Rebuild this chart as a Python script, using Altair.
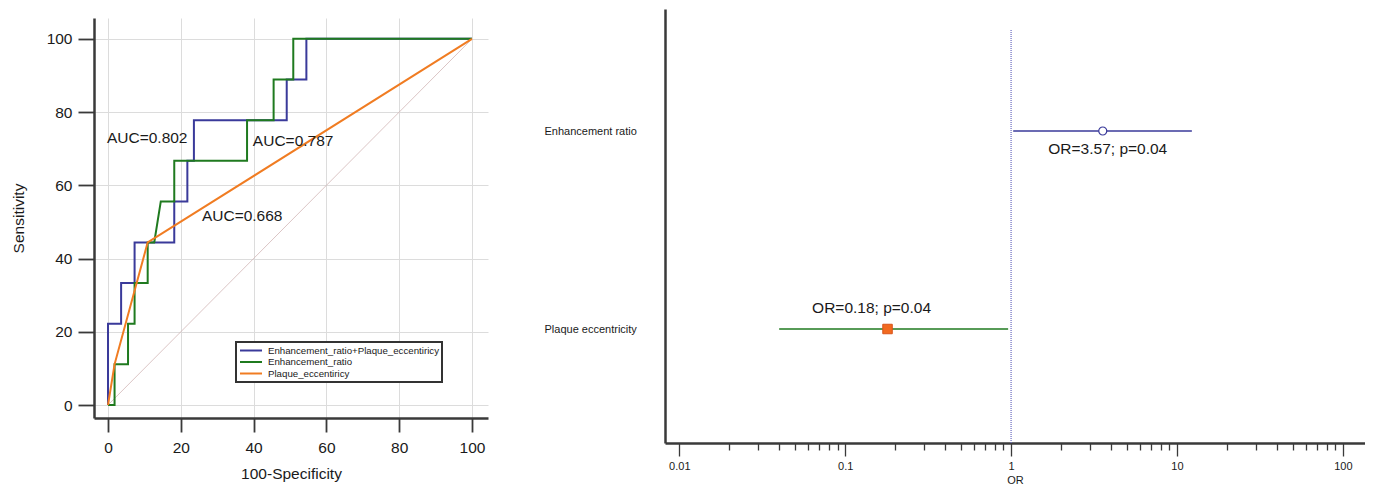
import altair as alt
import pandas as pd

FONT = "Liberation Sans"

# ---------------- ROC panel data ----------------
series_names = ["Enhancement_ratio+Plaque_eccentiricy", "Enhancement_ratio", "Plaque_eccentiricy"]
series_colors = ["#3a3a9a", "#1f7a1f", "#f07c22"]

combo_x = [0, 0, 3.6, 3.6, 7.3, 7.3, 18.2, 18.2, 21.8, 21.8, 23.6, 23.6, 49.1, 49.1, 54.5, 54.5, 100]
combo_y = [0, 22.2, 22.2, 33.3, 33.3, 44.4, 44.4, 55.6, 55.6, 66.7, 66.7, 77.8, 77.8, 88.9, 88.9, 100, 100]
enh_x = [0, 1.8, 1.8, 5.5, 5.5, 7.3, 7.3, 10.9, 10.9, 12.7, 14.5, 18.2, 18.2, 38.2, 38.2, 45.5, 45.5, 50.9, 50.9, 100]
enh_y = [0, 0, 11.1, 11.1, 22.2, 22.2, 33.3, 33.3, 44.4, 44.4, 55.6, 55.6, 66.7, 66.7, 77.8, 77.8, 88.9, 88.9, 100, 100]
plq_x = [0, 1.8, 10.9, 100]
plq_y = [0, 11.1, 44.4, 100]

diag_x = [0, 100]
diag_y = [0, 100]

auc_text = ["AUC=0.802", "AUC=0.787", "AUC=0.668"]
auc_x = [-0.3, 39.8, 25.8]
auc_y = [73.0, 72.0, 51.6]

roc_ticks = list(range(0, 101, 5))

# ---------------- Forest panel data ----------------
rows = ["Enhancement ratio", "Plaque eccentricity"]
odds = [3.57, 0.18]
ci_low = [1.03, 0.040]
ci_high = [12.3, 0.96]
pvals = [0.04, 0.04]
row_colors = ["#3a3a9a", "#1f7a1f"]
reference_or = 1

log_ticks = [m * 10.0 ** e for e in range(-2, 2) for m in range(1, 10)] + [100.0]

# ---------------- frames ----------------
roc_rows = []
for name, xs, ys in [(series_names[0], combo_x, combo_y),
                     (series_names[1], enh_x, enh_y),
                     (series_names[2], plq_x, plq_y)]:
    for i, (xv, yv) in enumerate(zip(xs, ys)):
        roc_rows.append({"series": name, "x": xv, "y": yv, "order": i})
roc_df = pd.DataFrame(roc_rows)
diag_df = pd.DataFrame({"x": diag_x, "y": diag_y})
auc_df = pd.DataFrame({"label": auc_text, "x": auc_x, "y": auc_y})

forest_df = pd.DataFrame({
    "row": rows, "or": odds, "lo": ci_low, "hi": ci_high,
    "label": [f"OR={o:.2f}; p={p:.2f}" for o, p in zip(odds, pvals)],
})
ref_df = pd.DataFrame({"ref": [reference_or]})

# ---------------- ROC panel ----------------
major20 = "datum.value % 20 === 0"
x_scale = alt.Scale(domain=[-3.85, 104.4], nice=False, zero=False)
y_scale = alt.Scale(domain=[-3.55, 105.7], nice=False, zero=False)

common_axis = dict(
    values=roc_ticks,
    labelExpr=f"{major20} ? datum.label : ''",
    grid=True,
    gridColor="#dcdcdc",
    gridWidth=1,
    gridOpacity={"condition": {"test": major20, "value": 1}, "value": 0},
    domainColor="#3a3a3a",
    domainWidth=2.5,
    tickColor="#3a3a3a",
    tickWidth=1.8,
    labelFont=FONT,
    labelFontSize=15.5,
    labelColor="#1a1a1a",
    labelOverlap=False,
    labelFlush=False,
    titleFont=FONT,
    titleFontSize=15.5,
    titleFontWeight="normal",
    titleColor="#1a1a1a",
)

x_axis = alt.Axis(title="100-Specificity",
                  tickSize={"condition": {"test": major20, "value": 14}, "value": 9},
                  labelPadding=8, titlePadding=11, **common_axis)
y_axis = alt.Axis(title="Sensitivity",
                  tickSize={"condition": {"test": major20, "value": 16}, "value": 9},
                  labelPadding=6, titlePadding=20, **common_axis)

base_roc = alt.Chart(diag_df).mark_line(color="#d2b6b6", strokeWidth=0.8).encode(
    x=alt.X("x:Q", scale=x_scale, axis=x_axis),
    y=alt.Y("y:Q", scale=y_scale, axis=y_axis),
)

NBSP = "\u00a0"
curves = alt.Chart(roc_df).mark_line(strokeWidth=2, interpolate="linear").encode(
    x=alt.X("x:Q", scale=x_scale),
    y=alt.Y("y:Q", scale=y_scale),
    order="order:Q",
    color=alt.Color(
        "series:N",
        scale=alt.Scale(domain=series_names, range=series_colors),
        legend=alt.Legend(
            title=None, orient="none", legendX=142, legendY=333,
            fillColor="white", strokeColor="#333333",
            padding=3, symbolType="M-2.45,0H2.45", symbolSize=81,
            symbolStrokeWidth=2, symbolOffset=6.5, labelOffset=11.5,
            labelFont=FONT, labelFontSize=9.7, labelColor="#1a1a1a",
            labelLimit=400, rowPadding=0.5,
            labelExpr=f"datum.label + '{NBSP * 10}'",
        ),
    ),
)

auc = alt.Chart(auc_df).mark_text(align="left", baseline="middle", font=FONT,
                                   fontSize=15.5, color="#1a1a1a").encode(
    x=alt.X("x:Q", scale=x_scale),
    y=alt.Y("y:Q", scale=y_scale),
    text="label:N",
)

roc_plot = alt.layer(base_roc, curves, auc).properties(width=394, height=400)

# invisible spacer that pushes the ROC frame slightly lower than the forest frame
spacer = alt.Chart(pd.DataFrame({"s": [0]})).mark_point(opacity=0, size=1).encode(
    x=alt.value(0.5), y=alt.value(0.5)
).properties(width=394, height=1)

roc = alt.vconcat(spacer, roc_plot, spacing=8)

# ---------------- Forest panel ----------------
is_decade = "abs(log(datum.value)/LN10 - round(log(datum.value)/LN10)) < 0.001"
or_scale = alt.Scale(type="log", domain=[0.0082, 136], nice=False)
row_scale = alt.Scale(type="point", domain=rows, padding=0.596, align=0.517)

or_axis = alt.Axis(
    title="OR", values=log_ticks,
    labelExpr=f"{is_decade} ? format(datum.value, '~g') : ''",
    tickSize={"condition": {"test": is_decade, "value": 13}, "value": 7},
    tickColor="#3a3a3a", tickWidth=1.3, grid=False,
    domainColor="#3a3a3a", domainWidth=2.5,
    labelFont=FONT, labelFontSize=11, labelColor="#1a1a1a", labelPadding=4,
    labelOverlap=False, labelFlush=False,
    titleFont=FONT, titleFontSize=11, titleFontWeight="normal", titleColor="#1a1a1a",
    titlePadding=3,
)
row_axis = alt.Axis(
    title=None, ticks=False, tickSize=0, grid=False,
    domainColor="#3a3a3a", domainWidth=2.5,
    labelAlign="left", labelPadding=121,
    labelFont=FONT, labelFontSize=11, labelColor="#1a1a1a",
)

ref_line = alt.Chart(ref_df).mark_rule(color="#6a6ac0", strokeWidth=1.2, strokeDash=[1, 1]).encode(
    x=alt.X("ref:Q", scale=or_scale, axis=or_axis),
    y=alt.value(21),
    y2=alt.value(434),
)

ci = alt.Chart(forest_df).mark_rule(strokeWidth=1.5).encode(
    x=alt.X("lo:Q", scale=or_scale),
    x2="hi:Q",
    y=alt.Y("row:N", scale=row_scale, axis=row_axis, sort=rows),
    color=alt.Color("row:N", scale=alt.Scale(domain=rows, range=row_colors), legend=None),
)

pt_circle = alt.Chart(forest_df).transform_filter(
    alt.datum.row == rows[0]
).mark_point(shape="circle", filled=True, fill="white", stroke="#3a3a9a",
             strokeWidth=1.2, size=64, opacity=1).encode(
    x=alt.X("or:Q", scale=or_scale),
    y=alt.Y("row:N", scale=row_scale, sort=rows),
)

pt_square = alt.Chart(forest_df).transform_filter(
    alt.datum.row == rows[1]
).mark_point(shape="square", filled=True, fill="#f26a1f", stroke="#d9531a",
             strokeWidth=1, size=90, opacity=1).encode(
    x=alt.X("or:Q", scale=or_scale),
    y=alt.Y("row:N", scale=row_scale, sort=rows),
)

txt_top = alt.Chart(forest_df).transform_filter(
    alt.datum.row == rows[0]
).mark_text(font=FONT, fontSize=15.5, color="#1a1a1a", baseline="middle",
            align="center", dx=5, dy=18).encode(
    x=alt.X("or:Q", scale=or_scale),
    y=alt.Y("row:N", scale=row_scale, sort=rows),
    text="label:N",
)

txt_bot = alt.Chart(forest_df).transform_filter(
    alt.datum.row == rows[1]
).mark_text(font=FONT, fontSize=15.5, color="#1a1a1a", baseline="middle",
            align="center", dx=-16, dy=-21).encode(
    x=alt.X("or:Q", scale=or_scale),
    y=alt.Y("row:N", scale=row_scale, sort=rows),
    text="label:N",
)

forest = alt.layer(ref_line, ci, pt_circle, pt_square, txt_top, txt_bot).resolve_scale(
    color="independent"
).properties(width=700, height=434)

chart = alt.hconcat(roc, forest, spacing=56).resolve_scale(color="independent").properties(
    padding={"left": 3, "top": 1, "right": 0, "bottom": 0},
    background="white",
).configure_view(strokeWidth=0).configure_legend(strokeWidth=2)

chart.save("out.html", embed_options={"renderer": "svg", "actions": False})
